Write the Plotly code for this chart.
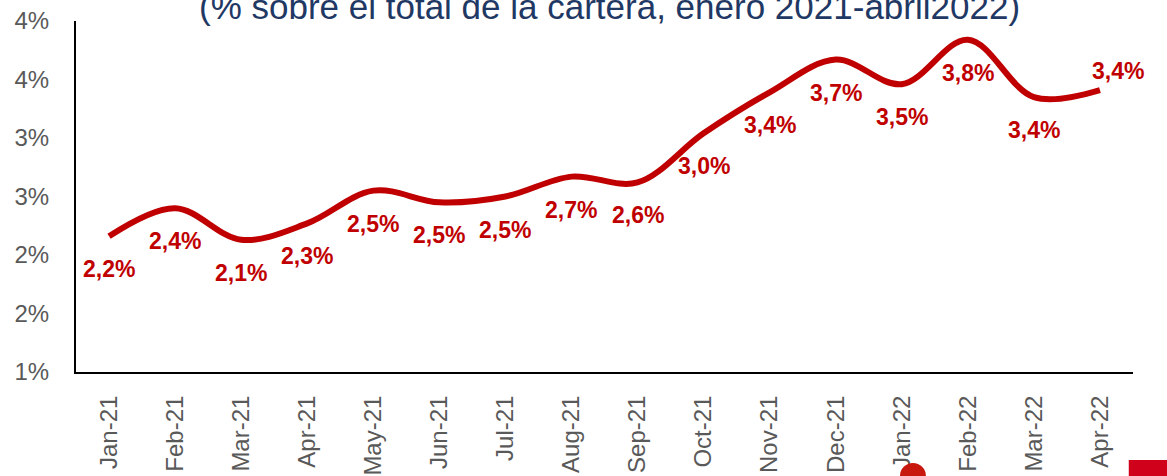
import plotly.graph_objects as go

months = ["Jan-21", "Feb-21", "Mar-21", "Apr-21", "May-21", "Jun-21", "Jul-21", "Aug-21",
          "Sep-21", "Oct-21", "Nov-21", "Dec-21", "Jan-22", "Feb-22", "Mar-22", "Apr-22"]
values = [2.16, 2.40, 2.13, 2.27, 2.55, 2.45, 2.50, 2.67,
          2.62, 3.04, 3.39, 3.67, 3.46, 3.84, 3.35, 3.41]
labels = ["2,2%", "2,4%", "2,1%", "2,3%", "2,5%", "2,5%", "2,5%", "2,7%",
          "2,6%", "3,0%", "3,4%", "3,7%", "3,5%", "3,8%", "3,4%", "3,4%"]
ytick_vals = [1.0, 1.5, 2.0, 2.5, 3.0, 3.5, 4.0]
ytick_text = ["1%", "2%", "2%", "3%", "3%", "4%", "4%"]
title_text = "(% sobre el total de la cartera, enero 2021-abril2022)"

RED = "#C00000"
GREY = "#595959"
FONT = "Liberation Sans, Arial, sans-serif"

fig = go.Figure()
fig.add_trace(go.Scatter(
    x=months, y=values, mode="lines",
    line=dict(color=RED, width=6, shape="spline", smoothing=1.0),
    hoverinfo="skip", showlegend=False,
))

annotations = []
for i, (m, v, t) in enumerate(zip(months, values, labels)):
    last = i == len(months) - 1
    annotations.append(dict(
        x=m, y=v, xref="x", yref="y", text="<b>%s</b>" % t, showarrow=False,
        xanchor="center", yanchor="middle",
        xshift=18 if last else 0, yshift=19 if last else -33,
        font=dict(family=FONT, size=23, color=RED),
    ))
annotations.append(dict(
    text=title_text, xref="paper", yref="paper", x=0.5043, y=1.040,
    xanchor="center", yanchor="middle", showarrow=False,
    font=dict(family=FONT, size=35, color="#1F3864"),
))

fig.update_layout(
    width=1167, height=476,
    margin=dict(l=76, r=34, t=21, b=104, autoexpand=False),
    paper_bgcolor="white", plot_bgcolor="white",
    font=dict(family=FONT, color=GREY, size=23),
    annotations=annotations,
    shapes=[
        dict(type="circle", xref="paper", yref="paper",
             x0=0.7795, x1=0.8041, y0=-0.333, y1=-0.259,
             fillcolor="#C8180E", line=dict(width=0), layer="above"),
        dict(type="rect", xref="paper", yref="paper",
             x0=0.996, x1=1.05, y0=-0.33, y1=-0.251,
             fillcolor="#D0021B", line=dict(width=0), layer="above"),
    ],
)
fig.update_xaxes(
    type="category", range=[-0.5, len(months) - 0.5], automargin=False,
    showline=True, linecolor="black", linewidth=2, showgrid=False, zeroline=False,
    ticks="", tickangle=-90, ticklabelstandoff=12, ticklabeloverflow="allow",
    tickfont=dict(family=FONT, size=24, color=GREY),
)
fig.update_yaxes(
    range=[1, 4], tickvals=ytick_vals, ticktext=ytick_text, automargin=False,
    showline=True, linecolor="black", linewidth=2, showgrid=False, zeroline=False,
    ticks="", ticklabelstandoff=20, ticklabeloverflow="allow",
    tickfont=dict(family=FONT, size=24, color=GREY),
)

fig.write_html("out.html", config={"displayModeBar": False},
               post_script="document.body.style.margin='0';")
